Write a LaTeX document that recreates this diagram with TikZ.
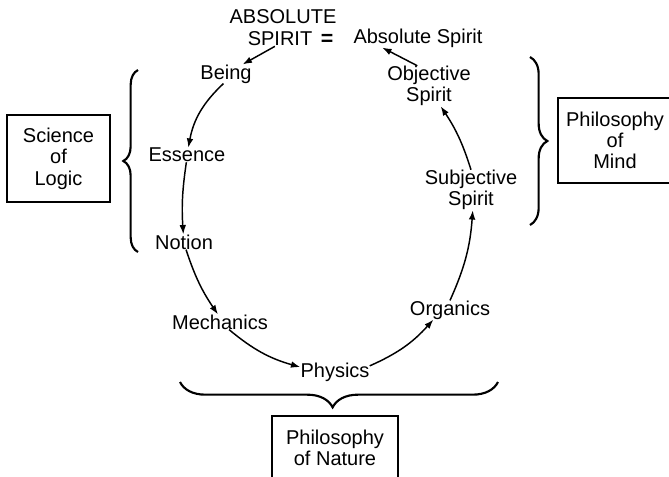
\documentclass[tikz,border=0pt]{standalone}
\usepackage{fontspec}
\setmainfont{Liberation Sans}
\usetikzlibrary{arrows.meta,decorations.pathreplacing}

\begin{document}
\begin{tikzpicture}[
  x=0.75pt,y=-0.75pt,
  font=\fontsize{15}{16}\selectfont,
  stage/.style={align=center,inner sep=0pt},
  book/.style={rectangle,draw=black,line width=0.8pt,align=center,inner sep=0pt},
  arr/.style={-{Latex[length=7pt,width=5pt]},line width=1.1pt},
  brc/.style={decorate,decoration={brace,amplitude=#1},line width=1.6pt},
]
\useasboundingbox (0,0) rectangle (669,476);

% ---------- stages round the circle ----------
\node[stage] (absolute) at (283,17) {ABSOLUTE};
\node[stage] (spirit) at (280,39) {SPIRIT};
\node[stage,font=\fontsize{16}{16}\selectfont\bfseries] (eq) at (327,40) {=};
\node[stage] (absp) at (418,38) {Absolute Spirit};
\node[stage] (being) at (226,74) {Being};
\node[stage] (essence) at (187,155) {Essence};
\node[stage] (notion) at (184,242) {Notion};
\node[stage] (mech) at (220,322) {Mechanics};
\node[stage] (physics) at (335,372) {Physics};
\node[stage] (organics) at (450,310) {Organics};
\node[stage] (subj) at (471,190) {Subjective\\Spirit};
\node[stage] (obj) at (429,86) {Objective\\Spirit};

\draw[arr] (spirit.-125) -- (being.30);
\draw[arr] (being.255) to[bend right=18] (essence.80);
\draw[arr] (essence.265) to[bend right=6] (notion.95);
\draw[arr] (notion.-75) to[bend right=8] (mech.105);
\draw[arr] (mech.-40) to[bend right=12] (physics.172);
\draw[arr] (physics.10) to[bend right=12] (organics.210);
\draw[arr] (organics.north) to[bend right=10] (subj.-85);
\draw[arr] (subj.north) to[bend right=8] (obj.-60);
\draw[arr] (obj.120) -- (absp.195);

% ---------- braces and books ----------
\draw[brc=11pt] (138,252) -- (138,70);
\draw[brc=13pt] (530,57) -- (530,225);
\draw[brc=19pt,decoration={aspect=0.52}] (498,382) -- (180,382);

\node[book,minimum width=77.25pt,minimum height=65.25pt] (logic) at (58.5,158.5) {Science\\of\\Logic};
\node[book,minimum width=85.5pt,minimum height=63.75pt] (mind) at (615,140.5) {Philosophy\\of\\Mind};
\node[book,minimum width=94.5pt,minimum height=48pt] (nature) at (335,448) {Philosophy\\of Nature};
\end{tikzpicture}
\end{document}
